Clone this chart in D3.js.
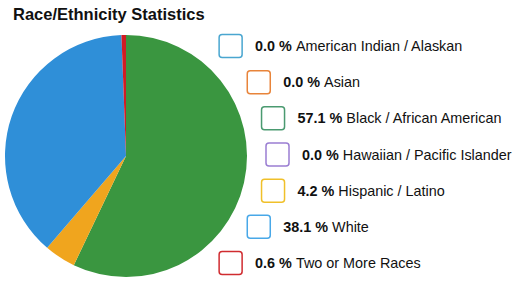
<!DOCTYPE html>
<html>
<head>
<meta charset="utf-8">
<script src="https://cdn.jsdelivr.net/npm/d3@7"></script>
<style>
  html, body { margin: 0; padding: 0; background: #fff; }
  svg { display: block; font-family: "Liberation Sans", Arial, sans-serif; }
</style>
</head>
<body>
<div class="d3Chart"></div>
<script>
const title = 'Race/Ethnicity Statistics'
const categories = [
  'American Indian / Alaskan',
  'Asian',
  'Black / African American',
  'Hawaiian / Pacific Islander',
  'Hispanic / Latino',
  'White',
  'Two or More Races'
]
const percents = [0.0, 0.0, 57.1, 0.0, 4.2, 38.1, 0.6]
const sliceColors = ['#4aa6d0', '#e8843a', '#3a9640', '#9a7ed2', '#f0a51e', '#2f8fd8', '#d01c24']
const boxColors = ['#4aa6d0', '#e8843a', '#4a9a70', '#9a7ed2', '#f0c02a', '#48a8e8', '#d02c30']

const width = 513
const height = 282
const cx = 126
const cy = 156
const radius = 121

const svg = d3.select('.d3Chart')
  .append('svg')
  .attr('width', width)
  .attr('height', height)

svg.append('text')
  .attr('x', 13)
  .attr('y', 20)
  .attr('font-size', 16.5)
  .attr('font-weight', 'bold')
  .attr('fill', '#111')
  .text(title)

// pie
const pie = d3.pie().sort(null).value(d => d)
const arc = d3.arc().innerRadius(0).outerRadius(radius)

svg.append('g')
  .attr('transform', `translate(${cx},${cy})`)
  .selectAll('path')
  .data(pie(percents))
  .enter()
  .append('path')
  .attr('d', arc)
  .attr('fill', (d, i) => sliceColors[i])

// legend, laid out along an arc to the right of the pie
const rowY = d3.scalePoint()
  .domain(categories)
  .range([46, 263])
const arcCx = cx - 9
const arcR = radius + 28
const boxSize = 23

const rows = svg.append('g')
  .selectAll('g')
  .data(categories)
  .enter()
  .append('g')
  .attr('transform', d => {
    const y = rowY(d)
    const dy = y - (46 + 263) / 2
    const x = arcCx + Math.sqrt(arcR * arcR - dy * dy)
    return `translate(${x},${y})`
  })

rows.append('rect')
  .attr('x', 0)
  .attr('y', -boxSize / 2)
  .attr('width', boxSize)
  .attr('height', boxSize)
  .attr('rx', 3)
  .attr('fill', '#fff')
  .attr('stroke', (d, i) => boxColors[i])
  .attr('stroke-width', 1.5)

const labels = rows.append('text')
  .attr('x', 36)
  .attr('y', 5)
  .attr('font-size', 14.4)
  .attr('fill', '#111')

labels.append('tspan')
  .attr('font-weight', 'bold')
  .text((d, i) => percents[i].toFixed(1) + ' % ')

labels.append('tspan')
  .text(d => d)
</script>
</body>
</html>
